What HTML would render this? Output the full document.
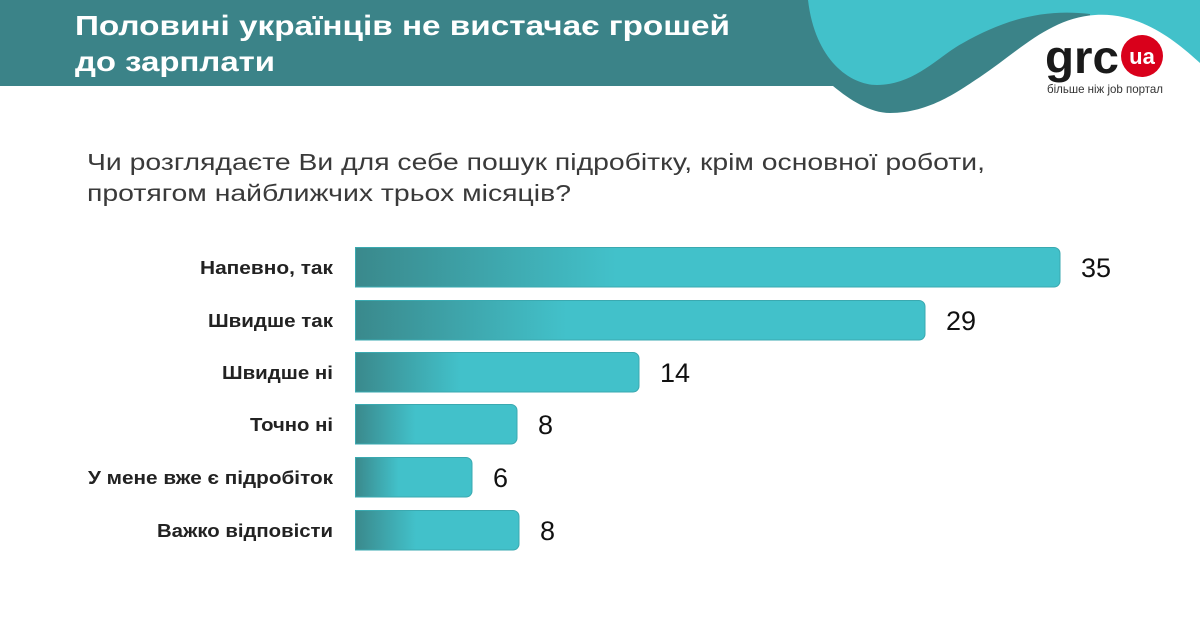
<!DOCTYPE html>
<html><head><meta charset="utf-8"><style>
html,body{margin:0;padding:0;background:#fff;width:1200px;height:630px;overflow:hidden}
svg{display:block;font-family:"Liberation Sans",sans-serif}
</style></head><body>
<svg width="1200" height="630" viewBox="0 0 1200 630" xmlns="http://www.w3.org/2000/svg">
<defs>
<linearGradient id="g" x1="0" y1="0" x2="1" y2="0">
<stop offset="0" stop-color="#3a898c"/><stop offset="0.37" stop-color="#42c1ca"/><stop offset="1" stop-color="#42c1ca"/>
</linearGradient>
</defs>
<rect x="0" y="0" width="1200" height="120" fill="#42c1ca"/>
<path d="M0,0 L808,0 C815,60 850,85 877,85 C915,85 940,55 963,43 C1000,22 1040,8 1090,14 L1090,120 L0,120 Z" fill="#3b8388"/>
<path d="M0,86 L833,86 C850,100 870,113 890,113 C930,113 960,90 980,77 C1020,50 1050,18 1095,15 C1140,12 1175,40 1200,63 L1200,130 L0,130 Z" fill="#fff"/>
<g fill="#fff" font-weight="bold" font-size="28">
<text x="75" y="35" textLength="655" lengthAdjust="spacingAndGlyphs">Половині українців не вистачає грошей</text>
<text x="75" y="71" textLength="200" lengthAdjust="spacingAndGlyphs">до зарплати</text>
</g>
<text x="1045" y="73" font-size="46" font-weight="bold" fill="#1a1a1a" textLength="74" lengthAdjust="spacingAndGlyphs">grc</text>
<circle cx="1142" cy="56" r="21" fill="#d9001b"/>
<text x="1142" y="64" font-size="22" font-weight="bold" fill="#fff" text-anchor="middle">ua</text>
<text x="1047" y="93" font-size="12" fill="#333" textLength="116" lengthAdjust="spacingAndGlyphs">більше ніж job портал</text>
<g fill="#3a3a3a" font-size="23">
<text x="87" y="170" textLength="898" lengthAdjust="spacingAndGlyphs">Чи розглядаєте Ви для себе пошук підробітку, крім основної роботи,</text>
<text x="87" y="201" textLength="484" lengthAdjust="spacingAndGlyphs">протягом найближчих трьох місяців?</text>
</g>
<g stroke="#3aa9b0" stroke-width="1" fill="url(#g)">
<path d="M355.5,247.5 H1054 a6,6 0 0 1 6,6 V281 a6,6 0 0 1 -6,6 H355.5 Z"/>
<path d="M355.5,300.5 H919 a6,6 0 0 1 6,6 V334 a6,6 0 0 1 -6,6 H355.5 Z"/>
<path d="M355.5,352.5 H633 a6,6 0 0 1 6,6 V386 a6,6 0 0 1 -6,6 H355.5 Z"/>
<path d="M355.5,404.5 H511 a6,6 0 0 1 6,6 V438 a6,6 0 0 1 -6,6 H355.5 Z"/>
<path d="M355.5,457.5 H466 a6,6 0 0 1 6,6 V491 a6,6 0 0 1 -6,6 H355.5 Z"/>
<path d="M355.5,510.5 H513 a6,6 0 0 1 6,6 V544 a6,6 0 0 1 -6,6 H355.5 Z"/>
</g>
<g font-size="18" font-weight="bold" fill="#222" lengthAdjust="spacingAndGlyphs">
<text x="200" y="274" textLength="133" lengthAdjust="spacingAndGlyphs">Напевно, так</text>
<text x="208" y="327" textLength="125" lengthAdjust="spacingAndGlyphs">Швидше так</text>
<text x="222" y="379" textLength="111" lengthAdjust="spacingAndGlyphs">Швидше ні</text>
<text x="250" y="431" textLength="83" lengthAdjust="spacingAndGlyphs">Точно ні</text>
<text x="88" y="484" textLength="245" lengthAdjust="spacingAndGlyphs">У мене вже є підробіток</text>
<text x="157" y="537" textLength="176" lengthAdjust="spacingAndGlyphs">Важко відповісти</text>
</g>
<g font-size="27" fill="#111">
<text x="1081" y="277">35</text>
<text x="946" y="330">29</text>
<text x="660" y="382">14</text>
<text x="538" y="434">8</text>
<text x="493" y="487">6</text>
<text x="540" y="540">8</text>
</g>
</svg>
</body></html>
